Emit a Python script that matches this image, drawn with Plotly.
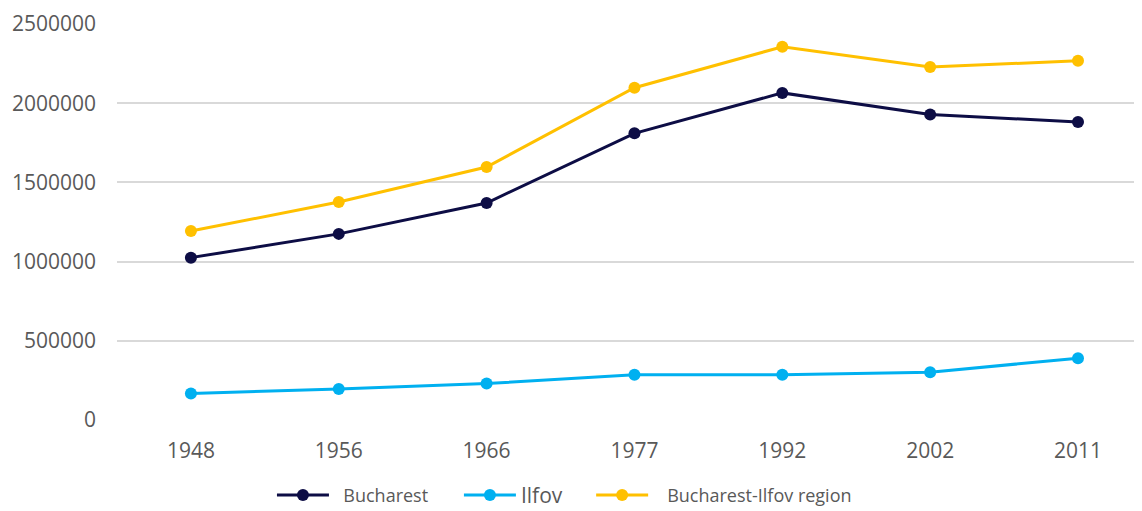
import plotly.graph_objects as go

years = ["1948", "1956", "1966", "1977", "1992", "2002", "2011"]
bucharest = [1025000, 1175000, 1370000, 1810000, 2065000, 1928000, 1882000]
ilfov = [168000, 196000, 230000, 285000, 285000, 302000, 390000]
region = [1193000, 1376000, 1597000, 2098000, 2356000, 2228000, 2268000]
y_ticks = [0, 500000, 1000000, 1500000, 2000000, 2500000]

font_family = "Open Sans, Liberation Sans, sans-serif"
grey = "#595959"
nb = "\u00a0"

fig = go.Figure()
series = [
    (nb * 2 + "Bucharest", bucharest, "#0D0D45", "legend"),
    ("Ilfov", ilfov, "#00B0F0", "legend2"),
    (nb * 3 + "Bucharest-Ilfov region", region, "#FFC000", "legend3"),
]
for name, vals, color, leg in series:
    fig.add_trace(go.Scatter(
        x=years, y=vals, name=name, mode="lines+markers",
        line=dict(color=color, width=3),
        marker=dict(color=color, size=12),
        legend=leg,
    ))

def legend_cfg(x, fs):
    return dict(
        x=x, y=-0.19, xref="paper", yref="paper", xanchor="left", yanchor="middle",
        orientation="h", font=dict(family=font_family, size=fs, color=grey),
        bgcolor="rgba(0,0,0,0)", itemwidth=52,
    )

fig.update_layout(
    width=1142, height=511,
    margin=dict(l=109, r=0, t=16, b=99, autoexpand=False),
    plot_bgcolor="white", paper_bgcolor="white",
    font=dict(family=font_family, size=21, color=grey),
    showlegend=True,
    legend=legend_cfg(0.150, 18),
    legend2=legend_cfg(0.331, 21),
    legend3=legend_cfg(0.459, 18),
    xaxis=dict(
        type="category", range=[-0.5, 6.487], showgrid=False, zeroline=False,
        showline=False, ticks="", ticklabelstandoff=16,
        tickfont=dict(size=21, color=grey),
    ),
    yaxis=dict(
        range=[0, 2500000], tickvals=y_ticks, tickformat="d",
        showgrid=True, gridcolor="#D9D9D9", gridwidth=1.5,
        zeroline=False, showline=False, ticks="", ticklabelstandoff=20,
        tickfont=dict(size=21, color=grey),
    ),
)
fig.write_html("out.html")
